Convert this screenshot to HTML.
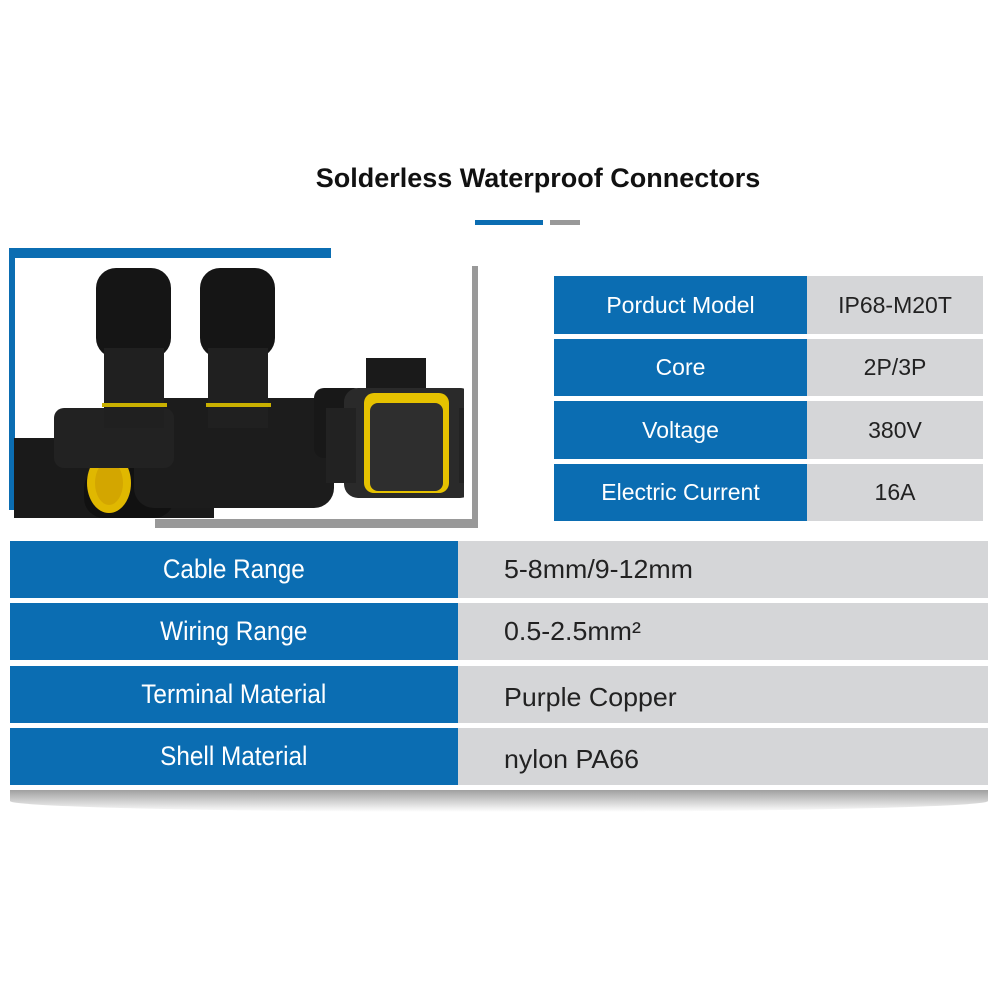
<!DOCTYPE html>
<html><head><meta charset="utf-8"><style>
body{margin:0;width:1000px;height:1000px;background:#fff;position:relative;overflow:hidden;font-family:"Liberation Sans",sans-serif}
.a{position:absolute}
.b{background:#0b6db2;color:#fff}
.g{background:#d5d6d8;color:#222}
.c{display:flex;align-items:center;justify-content:center}
.n{display:inline-block;transform:scaleX(.9);transform-origin:center}
.nl{display:inline-block;transform:scaleX(1.03);transform-origin:left}
</style></head><body>
<div class="a c" style="left:38px;width:1000px;top:160px;height:36px;font-size:27px;font-weight:bold;color:#111">Solderless Waterproof Connectors</div>
<div class="a" style="left:475px;top:220px;width:68px;height:5px;background:#0b6db2"></div>
<div class="a" style="left:550px;top:220px;width:30px;height:5px;background:#999"></div>

<div class="a" style="left:9px;top:248px;width:322px;height:10px;background:#0b6db2"></div>
<div class="a" style="left:9px;top:248px;width:6px;height:262px;background:#0b6db2"></div>
<div class="a" style="left:472px;top:266px;width:6px;height:262px;background:#999"></div>
<div class="a" style="left:155px;top:519px;width:323px;height:9px;background:#999"></div>

<svg class="a" style="left:14px;top:258px" width="450" height="260" viewBox="0 0 450 260">
<rect x="0" y="180" width="200" height="80" fill="#1a1a1a"/>
<rect x="70" y="210" width="90" height="50" rx="20" fill="#111"/>
<ellipse cx="95" cy="225" rx="22" ry="30" fill="#e0b800"/>
<ellipse cx="95" cy="225" rx="14" ry="22" fill="#d3a600"/>
<rect x="120" y="140" width="200" height="110" rx="20" fill="#1c1c1c"/>
<rect x="40" y="150" width="120" height="60" rx="10" fill="#222"/>
<rect x="82" y="10" width="75" height="90" rx="20" fill="#151515"/>
<rect x="90" y="90" width="60" height="80" fill="#202020"/>
<rect x="88" y="145" width="65" height="4" fill="#c9b000"/>
<rect x="186" y="10" width="75" height="90" rx="20" fill="#151515"/>
<rect x="194" y="90" width="60" height="80" fill="#202020"/>
<rect x="192" y="145" width="65" height="4" fill="#c9b000"/>
<rect x="300" y="130" width="50" height="70" rx="10" fill="#181818"/>
<rect x="352" y="100" width="60" height="40" fill="#1a1a1a"/>
<rect x="330" y="130" width="130" height="110" rx="14" fill="#2a2a2a"/>
<rect x="350" y="135" width="85" height="100" rx="10" fill="#e6c200"/>
<rect x="356" y="145" width="73" height="88" rx="8" fill="#2e2e2e"/>
<rect x="312" y="150" width="30" height="75" fill="#222"/>
<rect x="445" y="150" width="20" height="75" fill="#222"/>
</svg>

<div class="a b c" style="left:554px;top:276px;width:253px;height:58px;font-size:23px">Porduct Model</div>
<div class="a g c" style="left:807px;top:276px;width:176px;height:58px;font-size:23px">IP68-M20T</div>
<div class="a b c" style="left:554px;top:339px;width:253px;height:57px;font-size:23px">Core</div>
<div class="a g c" style="left:807px;top:339px;width:176px;height:57px;font-size:23px">2P/3P</div>
<div class="a b c" style="left:554px;top:401px;width:253px;height:58px;font-size:23px">Voltage</div>
<div class="a g c" style="left:807px;top:401px;width:176px;height:58px;font-size:23px">380V</div>
<div class="a b c" style="left:554px;top:464px;width:253px;height:57px;font-size:23px">Electric Current</div>
<div class="a g c" style="left:807px;top:464px;width:176px;height:57px;font-size:23px">16A</div>

<div class="a b c" style="left:10px;top:541px;width:448px;height:57px;font-size:27px"><span class="n">Cable Range</span></div>
<div class="a g" style="left:458px;top:541px;width:530px;height:57px;font-size:26px;line-height:57px;padding-left:46px;box-sizing:border-box"><span class="nl">5-8mm/9-12mm</span></div>
<div class="a b c" style="left:10px;top:603px;width:448px;height:57px;font-size:27px"><span class="n">Wiring Range</span></div>
<div class="a g" style="left:458px;top:603px;width:530px;height:57px;font-size:26px;line-height:57px;padding-left:46px;box-sizing:border-box"><span class="nl">0.5-2.5mm²</span></div>
<div class="a b c" style="left:10px;top:666px;width:448px;height:57px;font-size:27px"><span class="n">Terminal Material</span></div>
<div class="a g" style="left:458px;top:666px;width:530px;height:57px;font-size:26px;line-height:62px;padding-left:46px;box-sizing:border-box"><span class="nl">Purple Copper</span></div>
<div class="a b c" style="left:10px;top:728px;width:448px;height:57px;font-size:27px"><span class="n">Shell Material</span></div>
<div class="a g" style="left:458px;top:728px;width:530px;height:57px;font-size:26px;line-height:62px;padding-left:46px;box-sizing:border-box"><span class="nl">nylon PA66</span></div>
<div class="a" style="left:10px;top:790px;width:978px;height:22px;background:linear-gradient(#888,#fff);border-radius:0 0 50% 50%;opacity:.8"></div>
</body></html>
